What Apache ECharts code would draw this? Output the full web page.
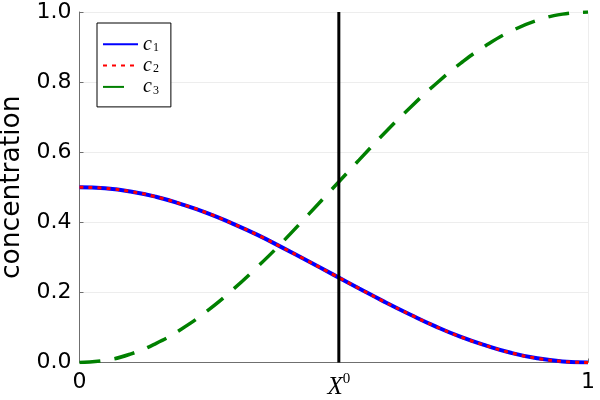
<!DOCTYPE html>
<html>
<head>
<meta charset="utf-8">
<script src="https://cdn.jsdelivr.net/npm/echarts@6/dist/echarts.min.js"></script>
<style>html,body{margin:0;padding:0;background:#fff}#chart{width:600px;height:400px}</style>
</head>
<body>
<div id="chart"></div>
<script>
var xs = [0, 0.05, 0.1, 0.15, 0.2, 0.25, 0.3, 0.35, 0.4, 0.45, 0.5, 0.55, 0.6, 0.65, 0.7, 0.75, 0.8, 0.85, 0.9, 0.95, 1];
var c1 = [0.500, 0.497, 0.488, 0.473, 0.452, 0.427, 0.397, 0.364, 0.327, 0.289, 0.250, 0.211, 0.173, 0.137, 0.103, 0.073, 0.048, 0.027, 0.012, 0.003, 0.000];
var c2 = [0.500, 0.497, 0.488, 0.473, 0.452, 0.427, 0.397, 0.364, 0.327, 0.289, 0.250, 0.211, 0.173, 0.137, 0.103, 0.073, 0.048, 0.027, 0.012, 0.003, 0.000];
var c3 = [0.000, 0.006, 0.024, 0.054, 0.095, 0.146, 0.206, 0.273, 0.345, 0.422, 0.500, 0.578, 0.655, 0.727, 0.794, 0.854, 0.905, 0.946, 0.976, 0.994, 1.000];
var X0 = 0.51;
var xTicks = [0, X0, 1];
var yTicks = [0, 0.2, 0.4, 0.6, 0.8, 1.0];
var seriesNames = ['c1', 'c2', 'c3'];

function pairs(ys) { return xs.map(function (x, i) { return [x, ys[i]]; }); }

var axisColor = '#6f6f6f';
var chart = echarts.init(document.getElementById('chart'), null, { renderer: 'canvas' });
chart.setOption({
  animation: false,
  backgroundColor: '#ffffff',
  grid: { left: 79.5, right: 12, top: 12, bottom: 37.5, containLabel: false, outerBoundsMode: 'none' },
  legend: {
    data: seriesNames,
    orient: 'vertical',
    left: 97, top: 23,
    padding: [10, 12, 10, 5],
    itemGap: 0,
    itemWidth: 35, itemHeight: 12,
    backgroundColor: '#ffffff',
    borderColor: '#000000', borderWidth: 1,
    itemStyle: { color: 'rgba(0,0,0,0)', borderColor: 'rgba(0,0,0,0)', borderWidth: 0 },
    formatter: function (name) { return '{c|c}{s|' + name.slice(1) + '}'; },
    textStyle: {
      lineHeight: 19.4,
      rich: {
        c: { fontFamily: 'Liberation Serif', fontStyle: 'italic', fontSize: 20, color: '#000', lineHeight: 19.4 },
        s: { fontFamily: 'Liberation Serif', fontSize: 12, color: '#000', lineHeight: 12, padding: [9, 0, 0, 1], verticalAlign: 'bottom' }
      }
    }
  },
  xAxis: {
    type: 'value', min: 0, max: 1,
    axisLine: { show: true, onZero: false, lineStyle: { color: axisColor, width: 1 } },
    axisTick: { show: true, inside: true, length: 4, customValues: xTicks, lineStyle: { color: axisColor } },
    splitLine: { show: true, lineStyle: { color: '#ededed', width: 1 } },
    axisLabel: {
      customValues: xTicks,
      margin: 9,
      fontFamily: 'DejaVu Sans', fontSize: 22, color: '#000',
      formatter: function (v) { return Math.abs(v - X0) < 1e-9 ? '{i|X}{p|0}' : String(v); },
      rich: {
        i: { fontFamily: 'Liberation Serif', fontStyle: 'italic', fontSize: 25, color: '#000', lineHeight: 26, padding: [6, 0, 0, 0] },
        p: { fontFamily: 'Liberation Serif', fontSize: 15, color: '#000', lineHeight: 14, verticalAlign: 'top' }
      }
    }
  },
  yAxis: {
    type: 'value', min: 0, max: 1, interval: 0.2,
    name: 'concentration', nameLocation: 'middle', nameGap: 43,
    nameTextStyle: { fontFamily: 'DejaVu Sans', fontSize: 26.5, color: '#000' },
    axisLine: { show: true, onZero: false, lineStyle: { color: axisColor, width: 1 } },
    axisTick: { show: true, inside: true, length: 4, lineStyle: { color: axisColor } },
    splitLine: { show: true, lineStyle: { color: '#ededed', width: 1 } },
    axisLabel: {
      margin: 8,
      fontFamily: 'DejaVu Sans', fontSize: 22, color: '#000',
      formatter: function (v) { return v.toFixed(1); }
    }
  },
  series: [
    { name: 'c1', type: 'line', data: pairs(c1), smooth: true, symbol: 'none', z: 2,
      lineStyle: { color: '#0000ff', width: 4 }, itemStyle: { color: '#0000ff' } },
    { name: 'c2', type: 'line', data: pairs(c2), smooth: true, symbol: 'none', z: 3,
      lineStyle: { color: '#ff0000', width: 3, type: [4, 5], cap: 'butt' }, itemStyle: { color: '#ff0000' } },
    { name: 'c3', type: 'line', data: pairs(c3), smooth: true, symbol: 'none', z: 4,
      lineStyle: { color: '#008000', width: 3.5, type: [21, 14], cap: 'butt' }, itemStyle: { color: '#008000' } },
    { name: 'X0', type: 'line', data: [[X0, 0], [X0, 1]], symbol: 'none', z: 5,
      lineStyle: { color: '#000000', width: 3 }, itemStyle: { color: '#000' } }
  ]
});
</script>
</body>
</html>
